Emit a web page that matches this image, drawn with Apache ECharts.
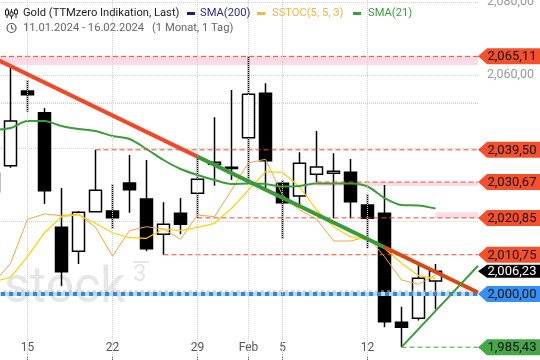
<!DOCTYPE html>
<html><head><meta charset="utf-8">
<script src="https://cdn.jsdelivr.net/npm/echarts@6/dist/echarts.min.js"></script>
<style>html,body{margin:0;padding:0;background:#fff}#c{width:540px;height:360px}</style>
</head><body><div id="c"></div>
<script>
// ---- data ----
const categories = ['2024-01-11','2024-01-12','2024-01-15','2024-01-16','2024-01-17','2024-01-18','2024-01-19',
  '2024-01-22','2024-01-23','2024-01-24','2024-01-25','2024-01-26','2024-01-29','2024-01-30','2024-01-31',
  '2024-02-01','2024-02-02','2024-02-05','2024-02-06','2024-02-07','2024-02-08','2024-02-09','2024-02-12',
  '2024-02-13','2024-02-14','2024-02-15','2024-02-16','2024-02-19','2024-02-20'];
const xTickDates  = ['2024-01-15','2024-01-22','2024-01-29','2024-02-01','2024-02-05','2024-02-12'];
const xTickLabels = ['15','22','29','Feb','5','12'];
const yTicks = [1980, 2000, 2020, 2040, 2060, 2080];

const opens  = [2028.0,2035.15,2055.62,2049.67,2018.27,2011.70,2022.55,2022.74,2030.41,2026.03,2016.36,2022.11,2027.59,2035.53,2034.40,2042.82,2054.99,2030.33,2026.85,2032.79,2033.07,2033.34,2024.38,2022.11,1992.25,1993.34,2003.56];
const closes = [2033.1,2047.40,2054.60,2028.30,2006.11,2022.38,2028.41,2020.90,2028.58,2012.41,2019.10,2019.10,2031.42,2036.08,2034.70,2054.71,2036.52,2025.01,2035.81,2034.79,2033.62,2025.29,2020.74,1992.41,1990.88,2004.30,2006.23];
const highs  = [2039.0,2062.27,2058.63,2050.96,2029.04,2022.74,2039.50,2030.14,2038.08,2036.71,2025.12,2026.30,2037.62,2048.41,2055.89,2065.11,2057.73,2031.23,2038.82,2044.66,2038.55,2036.99,2027.40,2029.86,1996.52,2007.95,2008.22];
const lows   = [2013.0,2034.60,2049.95,2024.66,2002.19,2008.22,2022.40,2017.81,2022.27,2011.70,2010.75,2016.36,2020.85,2029.67,2031.23,2030.00,2028.96,2015.07,2024.11,2030.67,2020.74,2020.74,2012.52,1990.88,1985.43,1992.74,1995.81];

const sma21  = [2044.93,2045.48,2047.40,2047.40,2046.03,2045.21,2044.66,2043.29,2042.47,2039.73,2036.71,2034.25,2032.60,2031.23,2030.14,2030.27,2030.14,2029.45,2029.59,2030.27,2030.27,2030.27,2029.45,2026.30,2024.38,2024.25,2023.42];
const sstocK = [2003.01,2008.41,2020.47,2021.92,2021.45,2021.92,2018.27,2010.41,2017.34,2018.44,2017.81,2014.99,2021.64,2021.18,2028.49,2035.97,2036.90,2027.12,2023.01,2020.55,2014.52,2014.52,2015.70,2010.22,2003.84,2002.66,2005.21];
const sstocD = [2003.29,2004.58,2010.22,2016.79,2021.18,2021.64,2019.37,2016.79,2015.42,2015.26,2017.81,2017.34,2018.27,2019.37,2023.48,2028.49,2033.51,2033.34,2029.40,2023.01,2018.44,2015.70,2014.79,2012.52,2008.41,2005.01,2004.30];

// resistance levels (value, index where line starts)
const levelValues = [2065.11, 2039.50, 2030.67, 2020.85, 2010.75];
const levelStart  = [-0.5, 6, 19, 12, 10];
// shaded zones
const bandFrom  = [2065.11, 2030.67, 2020.85];
const bandTo    = [2062.74, 2029.59, 2022.40];
const bandStart = [-0.5, 19, 26];
const supportValue = 2000.00;
const lowValue = 1985.43, lowStart = 24;
const greenLevel = 2052.3;
// trend line (piecewise coloured)
const trendX = [-0.5, 12, 23, 28.5];
const trendY = [2065.84, 2037.64, 2012.82, 2000.41];
const trendColors = ['#f2482a', '#3a9a38', '#d9480f'];
// rising line
const riseX = [24, 28.5];
const riseY = [1985.43, 2007.75];
// price tags
const tagValues = [2065.11, 2039.50, 2030.67, 2020.85, 2010.75, 2006.23, 2000.00, 1985.43];
const tagColors = ['#f5502c','#f5502c','#f5502c','#f5502c','#f5502c','#000000','#3590f0','#45a745'];
const tagText   = ['#111','#111','#111','#111','#111','#ffffff','#111','#111'];

// ---- helpers ----
function fmt(v){ const s=v.toFixed(2).split('.'); return s[0].replace(/\B(?=(\d{3})+(?!\d))/g, ',') + ',' + s[1]; }
const XMAX = categories.length - 0.5;
const candleData = categories.map((c,i)=> i<opens.length ? [opens[i], closes[i], lows[i], highs[i]] : '-');
const pad = a => categories.map((c,i)=> i<a.length ? a[i] : '-');
const isTick = (idx, val) => xTickDates.indexOf(val) >= 0;

const series = [];
series.push({type:'line', xAxisIndex:0, yAxisIndex:0, data:[], z:1, silent:true,
  markLine:{symbol:['none','none'], silent:true, label:{show:false}, animation:false,
    lineStyle:{type:'dotted', color:'#cfcfcf', width:1},
    data: xTickDates.map(d=>({xAxis:d}))}});
bandFrom.forEach((b,i)=>{
  series.push({type:'line', xAxisIndex:1, yAxisIndex:0, data:[], z:1, silent:true,
    markArea:{silent:true, itemStyle:{color:'rgba(250,195,210,0.6)'},
      data:[[{coord:[bandStart[i], bandFrom[i]]},{coord:[XMAX, bandTo[i]]}]]}});
});
series.push({type:'line', xAxisIndex:1, data:[[-0.5,greenLevel],[XMAX,greenLevel]], symbol:'none', z:1, silent:true,
  lineStyle:{color:'#9cc98c', width:1, type:'dotted'}});
series.push({type:'candlestick', xAxisIndex:0, yAxisIndex:0, data:candleData, barWidth:13, z:2,
  itemStyle:{color:'#ffffff', color0:'#000000', borderColor:'#000000', borderColor0:'#000000', borderWidth:1.5}});
series.push({type:'line', xAxisIndex:0, data:pad(sstocK), symbol:'none', z:3, lineStyle:{color:'#f7a53e', width:1}});
series.push({type:'line', xAxisIndex:0, data:pad(sstocD), symbol:'none', z:3, lineStyle:{color:'#ffd200', width:1.2}});
series.push({type:'line', xAxisIndex:0, data:pad(sma21), symbol:'none', smooth:0.3, z:4, lineStyle:{color:'#3a9c3a', width:2}});
levelValues.forEach((v,i)=>{
  series.push({type:'line', xAxisIndex:1, data:[[levelStart[i], v],[XMAX, v]], symbol:'none', z:4, silent:true,
    lineStyle:{color:'#f04a2a', width:1, type:[5,3]}});
});
series.push({type:'line', xAxisIndex:1, data:[[-0.5,supportValue+0.8],[XMAX,supportValue+0.8]], symbol:'none', z:4, silent:true,
  lineStyle:{color:'#f3a3a3', width:1, type:[3,3]}});
series.push({type:'line', xAxisIndex:1, data:[[-0.5,supportValue],[XMAX,supportValue]], symbol:'none', z:4, silent:true,
  lineStyle:{color:'#b9dafb', width:4}});
series.push({type:'line', xAxisIndex:1, data:[[-0.5,supportValue],[XMAX,supportValue]], symbol:'none', z:4, silent:true,
  lineStyle:{color:'#2d88ea', width:4, type:[4,4], cap:'butt'}});
series.push({type:'line', xAxisIndex:1, data:[[lowStart,lowValue],[XMAX,lowValue]], symbol:'none', z:4, silent:true,
  lineStyle:{color:'#3a9f3a', width:1, type:[5,3]}});
for(let k=0;k<trendX.length-1;k++){
  series.push({type:'line', xAxisIndex:1, data:[[trendX[k],trendY[k]],[trendX[k+1],trendY[k+1]]], symbol:'none', z:5, silent:true,
    lineStyle:{color:trendColors[k], width:4}});
}
series.push({type:'line', xAxisIndex:1, data:riseX.map((x,i)=>[x, riseY[i]]), symbol:'none', z:5, silent:true,
  lineStyle:{color:'#3a9f3a', width:2}});

const option = {
  animation:false,
  backgroundColor:'#ffffff',
  textStyle:{fontFamily:'Roboto, Arial, sans-serif'},
  grid:{left:-15, right:62, top:-1.65, bottom:-7, containLabel:false, outerBoundsMode:'none'},
  xAxis:[
    {type:'category', data:categories, boundaryGap:true, offset:-7,
      axisLine:{show:false},
      axisTick:{show:true, inside:true, length:4, alignWithLabel:true, interval:isTick, lineStyle:{color:'#666'}},
      axisLabel:{inside:true, margin:6, interval:isTick, color:'#555', fontSize:12, fontFamily:'Roboto, Arial, sans-serif',
        formatter:(v)=>{const i=xTickDates.indexOf(v); return i>=0?xTickLabels[i]:'';}},
      splitLine:{show:false}},
    {type:'value', min:-0.5, max:XMAX, show:false}
  ],
  yAxis:[{type:'value', position:'right', min:yTicks[0], max:2081, interval:20, scale:true,
    axisLine:{show:true, lineStyle:{color:'#cccccc', type:'dashed'}},
    axisTick:{show:true, length:4, lineStyle:{color:'#999'}},
    axisLabel:{color:'#999', fontSize:12.5, margin:9, fontFamily:'Roboto, Arial, sans-serif',
      formatter:(v)=> yTicks.indexOf(v)>=0 ? fmt(v) : ''},
    splitLine:{show:true, lineStyle:{color:'#d3d3d3', type:'dotted'}}}],
  series: series
};

const chart = echarts.init(document.getElementById('c'));
chart.setOption(option);

const F = 'Roboto, Arial, sans-serif';
const LF = '11.2px ' + F;
const g = [];
g.push({type:'text', x:4, y:289, z:1, style:{text:'stock', font:'50px '+F, fill:'#e6e6e6', verticalAlign:'middle'}});
g.push({type:'text', x:133, y:275, z:1, style:{text:'3', font:'24px '+F, fill:'#e6e6e6', verticalAlign:'middle'}});
g.push({type:'rect', shape:{x:133, y:261, width:16, height:2}, z:1, style:{fill:'#e6e6e6'}});
[[7,8,18,10,15],[11.5,9,19,12,16],[16,8,18,10,14]].forEach(c=>{
  g.push({type:'line', z:50, shape:{x1:c[0], y1:c[1], x2:c[0], y2:c[2]}, style:{stroke:'#222', lineWidth:1}});
  g.push({type:'rect', z:51, shape:{x:c[0]-1.5, y:c[3], width:3, height:c[4]-c[3]}, style:{fill:'#fff', stroke:'#222', lineWidth:1}});
});
const leg = [
  {x:23, t:'Gold (TTMzero Indikation, Last)', c:'#222'},
  {x:200, t:'SMA(200)', c:'#2b2b8c', d:'#1d1d7a', dx:187},
  {x:272, t:'SSTOC(5, 5, 3)', c:'#f6b445', d:'#f6b445', dx:257},
  {x:368, t:'SMA(21)', c:'#3aa03a', d:'#3aa03a', dx:353}
];
leg.forEach(l=>{
  g.push({type:'text', x:l.x, y:13.5, z:50, style:{text:l.t, fill:l.c, font:LF, verticalAlign:'middle'}});
  if(l.d) g.push({type:'rect', z:50, shape:{x:l.dx, y:12, width:8, height:3}, style:{fill:l.d}});
});
g.push({type:'circle', z:50, shape:{cx:11.5, cy:28, r:4.5}, style:{fill:'none', stroke:'#555', lineWidth:1.2}});
g.push({type:'polyline', z:50, shape:{points:[[11.5,25.3],[11.5,28],[13.5,29.5]]}, style:{fill:'none', stroke:'#555', lineWidth:1.1}});
g.push({type:'text', x:23, y:28.5, z:50, style:{text:'11.01.2024 - 16.02.2024', fill:'#666', font:LF, verticalAlign:'middle'}});
g.push({type:'text', x:152, y:28.5, z:50, style:{text:'(1 Monat, 1 Tag)', fill:'#666', font:LF, verticalAlign:'middle'}});
const xr = chart.convertToPixel({xAxisIndex:1}, XMAX);
tagValues.forEach((v,i)=>{
  const y = chart.convertToPixel({yAxisIndex:0}, v);
  const h = tagColors[i]==='#000000' ? 6.5 : 8;
  g.push({type:'polygon', z:100, shape:{points:[[xr,y],[xr+9,y-h],[540,y-h],[540,y+h],[xr+9,y+h]]}, style:{fill:tagColors[i]}});
  g.push({type:'text', x:xr+9.5, y:y+0.5, z:101, style:{text:fmt(v), fill:tagText[i], font:'13px '+F, verticalAlign:'middle'}});
});
chart.setOption({graphic:{elements:g}});
</script></body></html>
